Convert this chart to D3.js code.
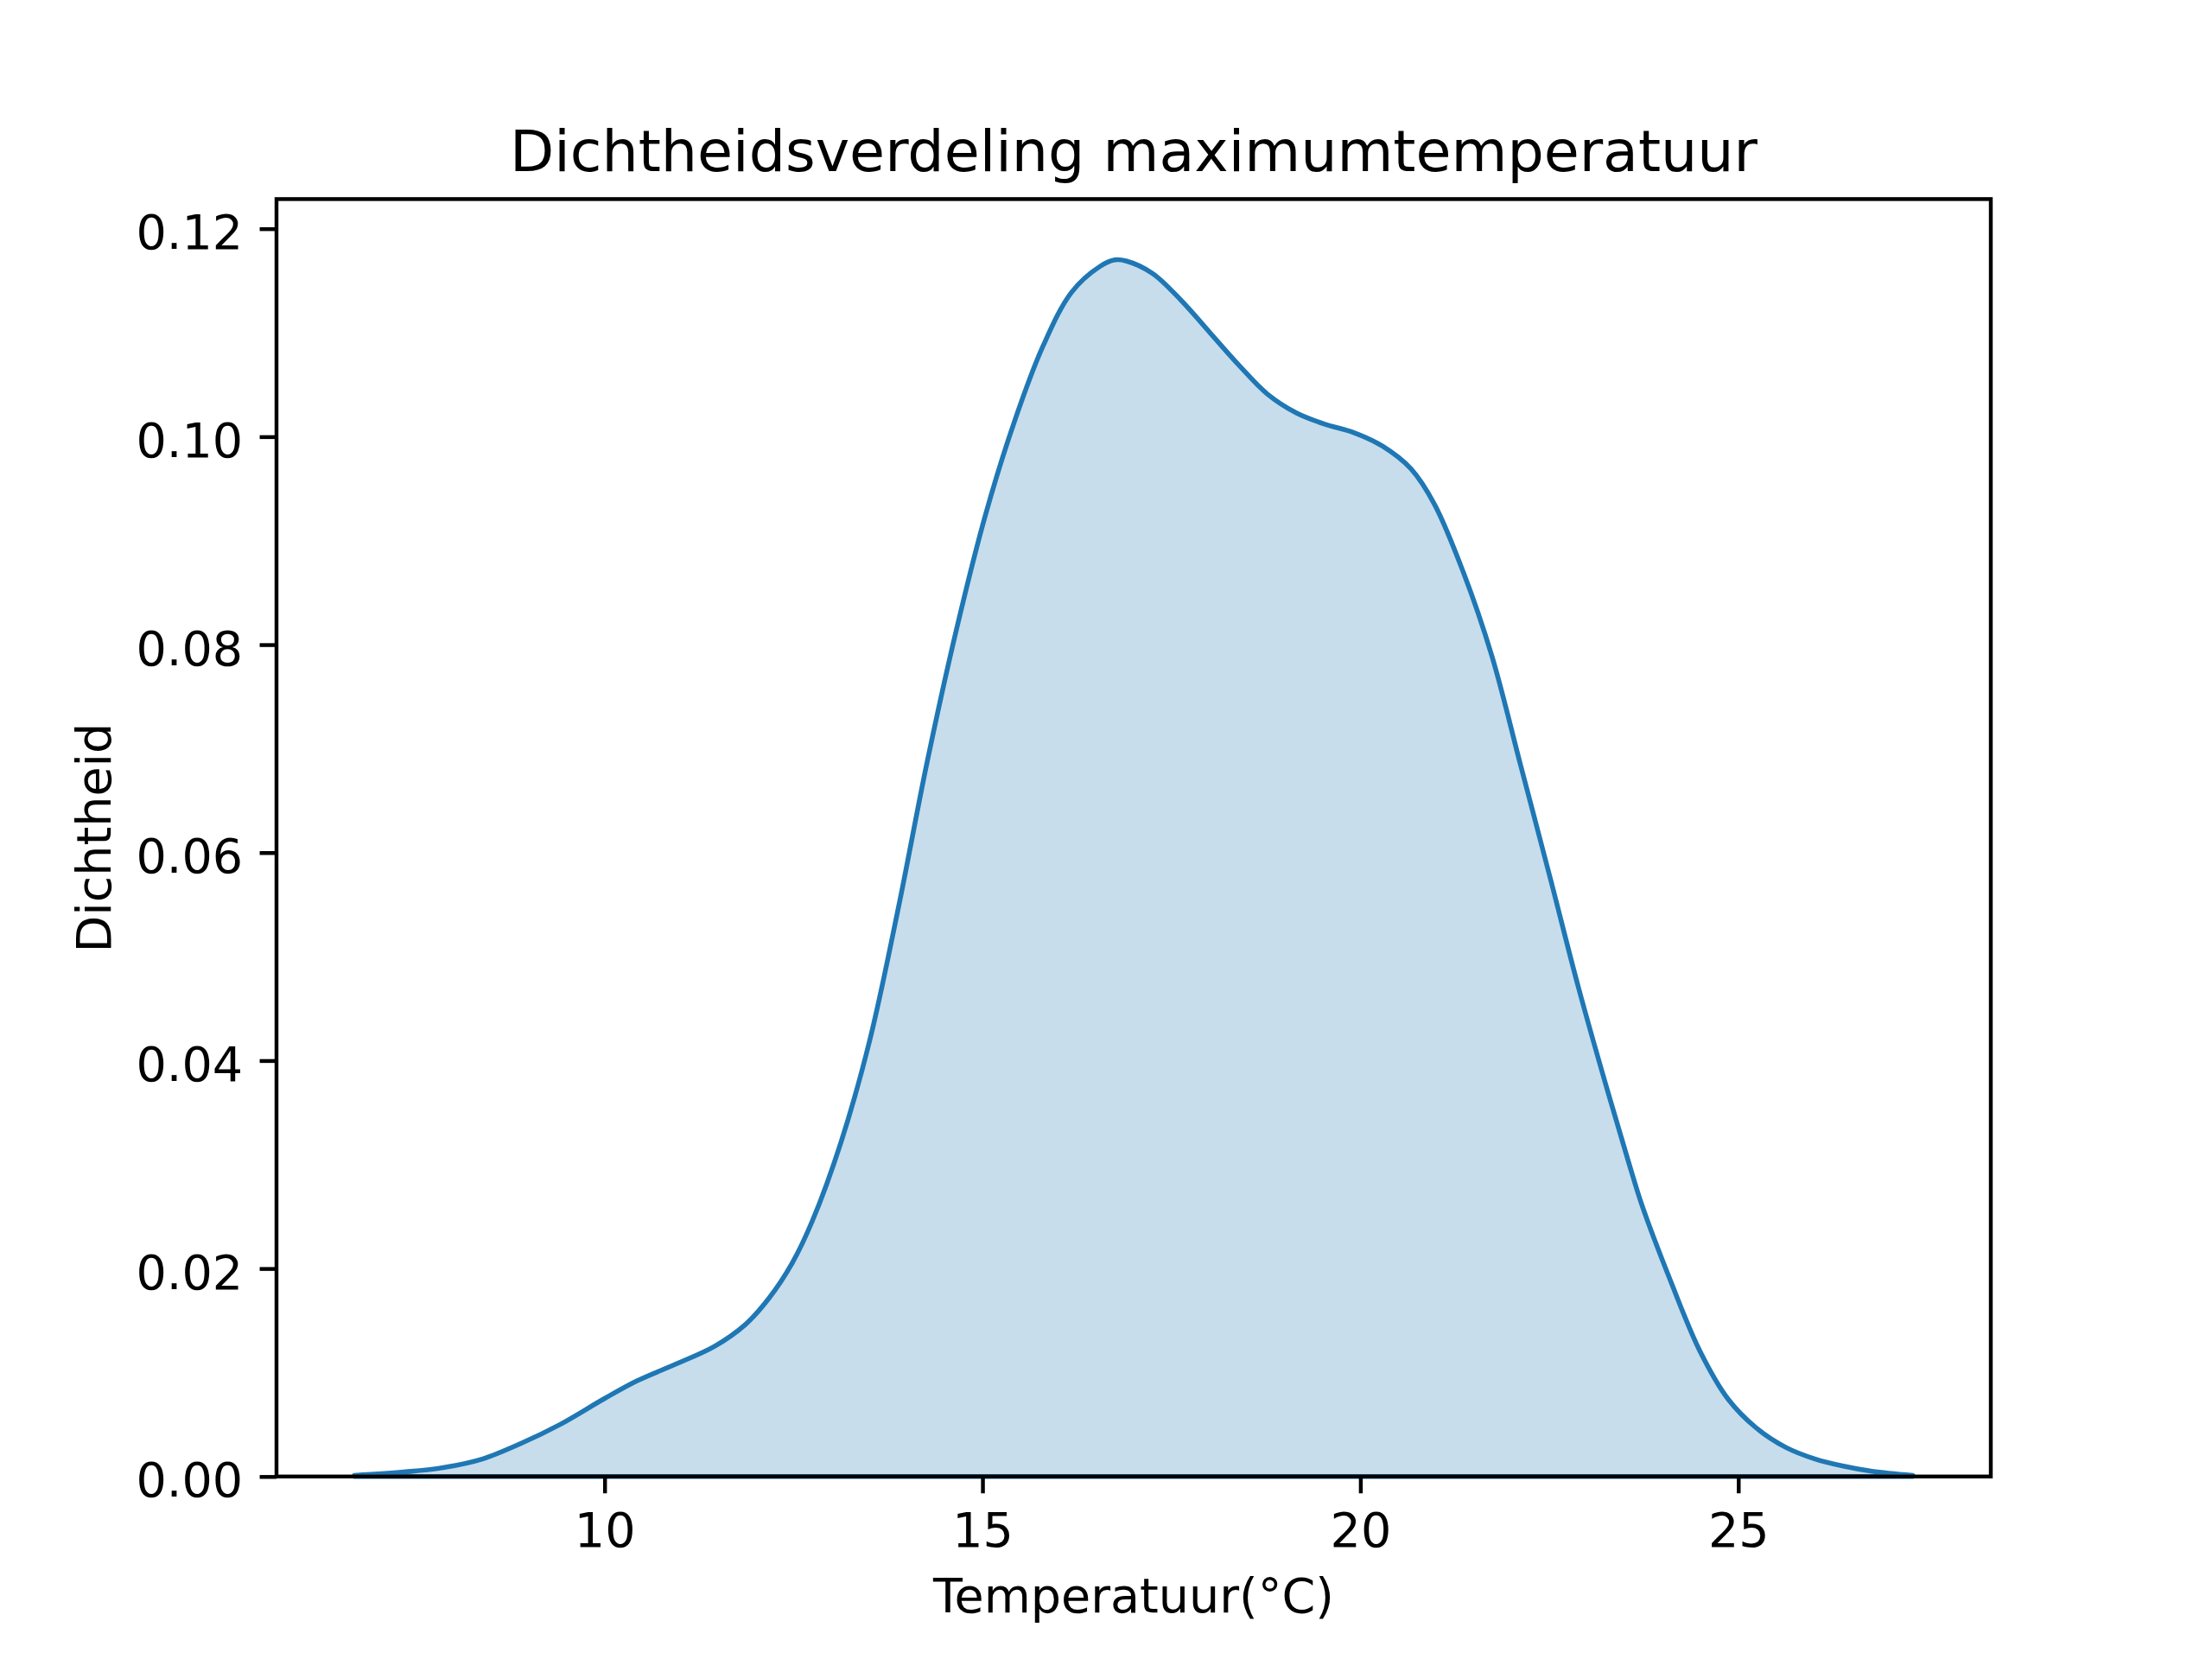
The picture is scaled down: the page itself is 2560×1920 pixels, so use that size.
<!DOCTYPE html>
<html>
<head>
<meta charset="utf-8">
<script src="https://cdn.jsdelivr.net/npm/d3@7"></script>
<style>
  body { margin: 0; background: #ffffff; }
  svg { display: block; }
  text { font-family: "DejaVu Sans", sans-serif; fill: #000000; }
</style>
</head>
<body>
<div id="chart"></div>
<script>
// KDE curve (temperature in °C, density)
const temperature = [6.69, 7.37, 7.88, 8.39, 8.90, 9.41, 10.00, 10.43, 10.94, 11.45,
                     11.86, 12.17, 12.48, 12.75, 13.13, 13.51, 13.89, 14.27, 14.66, 15.04,
                     15.42, 15.80, 16.18, 16.56, 16.75, 16.90, 17.25, 17.63, 18.01, 18.39,
                     18.77, 19.15, 19.53, 19.91, 20.29, 20.67, 20.98, 21.36, 21.74, 22.12,
                     22.51, 22.89, 23.27, 23.55, 23.73, 24.11, 24.49, 24.87, 25.25, 25.63,
                     26.01, 26.39, 26.77, 27.31];
const density     = [0.0001, 0.00045, 0.00087, 0.0017, 0.0032, 0.0050, 0.0075, 0.0092, 0.0108, 0.0125,
                     0.0146, 0.0171, 0.0205, 0.0246, 0.0322, 0.0420, 0.0548, 0.0688, 0.0816, 0.0925,
                     0.1014, 0.1087, 0.1139, 0.1164, 0.1170, 0.1169, 0.1157, 0.1131, 0.1100, 0.1069,
                     0.1041, 0.1023, 0.1012, 0.1004, 0.0991, 0.0969, 0.0935, 0.0870, 0.0789, 0.0684,
                     0.0576, 0.0469, 0.0371, 0.0302, 0.0260, 0.0187, 0.0121, 0.0074, 0.0046, 0.0028,
                     0.0017, 0.0010, 0.0005, 0.0001];
const xTicks = [10, 15, 20, 25];
const yTicks = [0, 0.02, 0.04, 0.06, 0.08, 0.10, 0.12];

const title  = "Dichtheidsverdeling maximumtemperatuur";
const xLabel = "Temperatuur(°C)";
const yLabel = "Dichtheid";

const WIDTH  = 2560,
      HEIGHT = 1920,
      PT     = 400 / 72;   // figure drawn at 400 dpi
const MARGIN = { left: 320, right: 2304, top: 230.4, bottom: 1708.8 };

const svg = d3.select("#chart")
              .append("svg")
              .attr("width", WIDTH)
              .attr("height", HEIGHT);

// matplotlib style 5% margins on x, y sticks to 0
const xMin = d3.min(temperature), xMax = d3.max(temperature),
      xPad = (xMax - xMin) * 0.05;
const x = d3.scaleLinear()
            .domain([xMin - xPad, xMax + xPad])
            .range([MARGIN.left, MARGIN.right]);
const y = d3.scaleLinear()
            .domain([0, d3.max(density) * 1.05])
            .range([MARGIN.bottom, MARGIN.top]);

const points = temperature.map((t, i) => [t, density[i]]);

const area = d3.area()
               .x(d => x(d[0]))
               .y0(y(0))
               .y1(d => y(d[1]))
               .curve(d3.curveCatmullRom.alpha(0.5));

svg.append("path")
   .datum(points)
   .attr("d", area)
   .attr("fill", "#1f77b4")
   .attr("fill-opacity", 0.25)
   .attr("stroke", "#1f77b4")
   .attr("stroke-width", 1.0 * PT)
   .attr("stroke-linejoin", "round");

// axes
const tickLen = 3.5 * PT;

const gx = svg.append("g")
              .attr("transform", `translate(0,${MARGIN.bottom})`)
              .call(d3.axisBottom(x).tickValues(xTicks).tickSize(tickLen).tickFormat(d3.format("d")));
gx.select(".domain").remove();
gx.selectAll(".tick line").attr("stroke", "#000").attr("stroke-width", 0.8 * PT);
gx.selectAll(".tick text")
  .attr("y", 81).attr("dy", 0)
  .attr("font-size", 10 * PT)
  .attr("font-family", "DejaVu Sans");

const gy = svg.append("g")
              .attr("transform", `translate(${MARGIN.left},0)`)
              .call(d3.axisLeft(y).tickValues(yTicks).tickSize(tickLen).tickFormat(d3.format(".2f")));
gy.select(".domain").remove();
gy.selectAll(".tick line").attr("stroke", "#000").attr("stroke-width", 0.8 * PT);
gy.selectAll(".tick text")
  .attr("x", -2 * tickLen).attr("dy", 23)
  .attr("font-size", 10 * PT)
  .attr("font-family", "DejaVu Sans");

// frame (spines on top)
svg.append("rect")
   .attr("x", MARGIN.left)
   .attr("y", MARGIN.top)
   .attr("width", MARGIN.right - MARGIN.left)
   .attr("height", MARGIN.bottom - MARGIN.top)
   .attr("fill", "none")
   .attr("stroke", "#000")
   .attr("stroke-width", 0.8 * PT)
   .attr("stroke-linejoin", "miter");

// texts
svg.append("text")
   .attr("x", (MARGIN.left + MARGIN.right) / 2)
   .attr("y", 198)
   .attr("text-anchor", "middle")
   .attr("font-size", 12 * PT)
   .text(title);

svg.append("text")
   .attr("x", (MARGIN.left + MARGIN.right) / 2)
   .attr("y", 1866)
   .attr("text-anchor", "middle")
   .attr("font-size", 10 * PT)
   .text(xLabel);

svg.append("text")
   .attr("transform", `translate(128,${(MARGIN.top + MARGIN.bottom) / 2}) rotate(-90)`)
   .attr("text-anchor", "middle")
   .attr("font-size", 10 * PT)
   .text(yLabel);
</script>
</body>
</html>
